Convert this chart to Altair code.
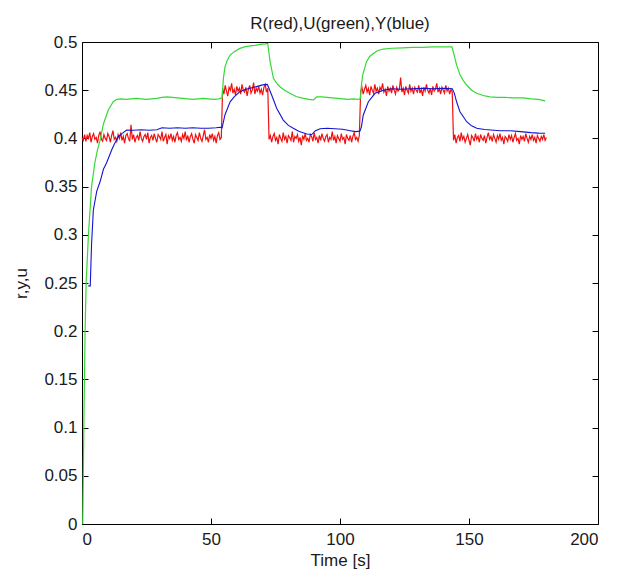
import altair as alt
import numpy as np
import pandas as pd

TITLE = "R(red),U(green),Y(blue)"
X_TITLE = "Time [s]"
Y_TITLE = "r,y,u"
X_TICKS = [0, 50, 100, 150, 200]
Y_TICKS = [0, 0.05, 0.1, 0.15, 0.2, 0.25, 0.3, 0.35, 0.4, 0.45, 0.5]

# Reference r (red), sampled every 0.5 s, values in thousandths
RED_DT = 0.5
red_low_1 = [
    401, 398, 404, 397, 403, 400, 406, 396, 402, 405,
    399, 401, 395, 403, 407, 399, 397, 404, 400, 398,
    405, 402, 396, 403, 408, 399, 401, 397, 404, 400,
    406, 398, 402, 395, 403, 405, 400, 397, 414, 399,
    404, 396, 401, 403, 398, 407, 400, 397, 402, 404,
    399, 406, 395, 401, 403, 398, 405, 400, 396, 404,
    402, 399, 407, 397, 401, 404, 394, 403, 400, 405,
    398, 402, 396, 403, 406, 399, 401, 397, 404, 400,
    407, 398, 403, 396, 402, 405, 399, 395, 404, 401,
    398, 406, 400, 397, 403, 409, 399, 401, 396, 404,
    400, 405, 398, 402, 395, 403, 406, 399, 401,
]
red_high_1 = [
    452, 446, 455, 449, 444, 453, 450, 457, 447, 451,
    445, 454, 449, 452, 446, 456, 450, 448, 453, 444,
    451, 455, 447, 450, 458, 446, 452, 449, 454, 447,
    451, 445, 453, 456, 448, 452,
]
red_low_2 = [
    399, 403, 396, 402, 405, 398, 401, 394, 404, 400,
    397, 406, 399, 402, 395, 403, 401, 398, 407, 396,
    402, 400, 404, 397, 401, 393, 403, 399, 405, 398,
    400, 396, 404, 402, 397, 406, 399, 401, 395, 403,
    398, 405, 400, 397, 402, 404, 396, 401, 399, 407,
    398, 402, 395, 403, 400, 397, 405, 399, 401, 394,
    404, 400, 398, 403, 396, 402, 406, 399, 401, 397,
    403,
]
red_high_2 = [
    449, 453, 446, 451, 455, 448, 452, 445, 454, 450,
    447, 456, 449, 452, 446, 453, 450, 457, 448, 451,
    444, 454, 449, 452, 447, 455, 450, 446, 453, 449,
    451, 463, 448, 452, 445, 454, 450, 447, 456, 449,
    452, 446, 453, 450, 448, 455, 447, 451, 444, 453,
    449, 456, 450, 447, 452, 445, 454, 449, 451, 457,
    448, 452, 446, 453, 450, 447, 455, 449, 452, 446,
    451, 448,
]
red_low_3 = [
    398, 404, 395, 401, 403, 397, 406, 399, 402, 396,
    400, 404, 398, 393, 403, 401, 397, 405, 399, 402,
    396, 404, 400, 398, 403, 395, 401, 406, 399, 402,
    397, 404, 400, 396, 403, 399, 405, 398, 401, 394,
    402, 400, 397, 404, 399, 403, 396, 401, 405, 398,
    400, 394, 403, 399, 402, 397, 405, 400, 396, 402,
    399, 404, 398, 401, 395, 403, 400, 397, 402, 399,
    404, 398, 401,
]

# Control signal u (green)
green_t = [0.3, 0.8, 1.2, 1.6, 2.5, 3.7, 5.0, 6.0, 7.0, 8.3, 10.2, 12.1, 13.5,
           15, 17, 19, 21, 23, 25, 27, 29, 31, 33, 35, 37, 39, 41, 43, 45, 47, 49,
           51, 53, 54.3, 54.8, 55.4, 56.3, 57.4, 59, 61.2, 63, 65.1, 67, 69, 71,
           72.0, 72.3, 72.9, 74.2, 75.5, 76.7, 78.5, 80.6, 83, 85.8, 88, 89.7, 91,
           93, 95, 97, 99, 101, 103, 105, 107, 107.9, 108.3, 108.8, 110.3, 111.5,
           112.9, 114.5, 116.8, 120, 124.5, 128, 132, 136, 140, 143.4, 144.2,
           145.2, 146.5, 147.8, 149.1, 151, 153, 155.5, 158.1, 161, 164, 167, 171,
           174, 177, 179.5]
green_v = [0.0, 0.12, 0.2, 0.25, 0.30, 0.35, 0.375, 0.388, 0.398, 0.415, 0.4295,
           0.438, 0.4405, 0.441, 0.4405, 0.441, 0.4415, 0.441, 0.4405, 0.441,
           0.4415, 0.4425, 0.443, 0.4425, 0.442, 0.4415, 0.441, 0.4405, 0.441,
           0.4415, 0.441, 0.4405, 0.441, 0.442, 0.462, 0.474, 0.481, 0.4865,
           0.490, 0.4934, 0.495, 0.496, 0.4965, 0.4975, 0.498, 0.4985, 0.492,
           0.4796, 0.4623, 0.457, 0.4536, 0.450, 0.4468, 0.4435, 0.4416, 0.4405,
           0.440, 0.443, 0.443, 0.4425, 0.442, 0.4415, 0.441, 0.4405, 0.441,
           0.4405, 0.441, 0.455, 0.466, 0.4796, 0.485, 0.488, 0.491, 0.4927,
           0.4935, 0.494, 0.4945, 0.4945, 0.495, 0.495, 0.495, 0.487, 0.476,
           0.466, 0.46, 0.4554, 0.450, 0.4468, 0.4445, 0.443, 0.4425, 0.4425,
           0.442, 0.442, 0.441, 0.4405, 0.439]

# Output y (blue)
blue_t = [2.4, 3.2, 3.7, 4.4, 5.7, 7.0, 8.3, 9.5, 11.5, 12.5, 14.1, 15.5, 17.3,
          20, 23, 26, 29, 31, 34, 37, 40, 43, 46, 49, 52, 53.5, 54.3, 55.4, 57.4,
          59, 61.2, 63, 65.1, 68, 70, 71.8, 72.3, 73.5, 75.5, 78, 80, 81.9, 84,
          87.1, 89, 90.5, 92.3, 95, 98, 101, 104, 106, 107.7, 108.3, 109, 111,
          113.6, 116.8, 120, 124, 128, 132, 136, 140, 143.5, 144.3, 145.2, 146.5,
          149.1, 151, 153, 156, 158.5, 162, 166, 170, 174, 177, 179.5]
blue_v = [0.247, 0.247, 0.29, 0.3257, 0.345, 0.355, 0.368, 0.3745, 0.388, 0.394,
          0.4018, 0.405, 0.4087, 0.4085, 0.409, 0.4085, 0.409, 0.411, 0.4105,
          0.411, 0.4105, 0.411, 0.4105, 0.4105, 0.411, 0.4115, 0.411, 0.4243,
          0.438, 0.443, 0.4485, 0.4505, 0.452, 0.454, 0.4555, 0.456, 0.453,
          0.445, 0.431, 0.419, 0.4135, 0.4105, 0.4075, 0.4045, 0.404, 0.408,
          0.410, 0.4105, 0.41, 0.4095, 0.408, 0.407, 0.4075, 0.412, 0.424, 0.438,
          0.4468, 0.450, 0.4515, 0.451, 0.4515, 0.452, 0.4515, 0.452, 0.4515,
          0.447, 0.438, 0.4277, 0.4173, 0.413, 0.4105, 0.4092, 0.4087, 0.408,
          0.408, 0.407, 0.406, 0.4055, 0.4053]

red_vals = np.array(red_low_1 + red_high_1 + red_low_2 + red_high_2 + red_low_3) / 1000.0
red_df = pd.DataFrame({"t": np.arange(len(red_vals)) * RED_DT, "v": red_vals})
green_df = pd.DataFrame({"t": green_t, "v": green_v})
blue_df = pd.DataFrame({"t": blue_t, "v": blue_v})

FONT = "Liberation Sans"
FS = 17
TXT = "#1a1a1a"

xs = alt.Scale(domain=[0, 200], nice=False, zero=False)
ys = alt.Scale(domain=[0, 0.5], nice=False, zero=False)

common_axis = dict(domain=False, grid=False, offset=-6, tickSize=6, tickColor="#000",
                   tickWidth=1, labelFont=FONT, labelFontSize=FS, labelColor=TXT,
                   titleFont=FONT, titleFontSize=FS, titleColor=TXT, titleFontWeight="normal")

x_bottom = alt.Axis(orient="bottom", values=X_TICKS, format="d", title=X_TITLE,
                    labelPadding=7, titlePadding=5, **common_axis)
y_left = alt.Axis(orient="left", values=Y_TICKS, format="~g", title=Y_TITLE,
                  labelPadding=5, titlePadding=13, **common_axis)
x_top = alt.Axis(orient="top", values=X_TICKS, labels=False, title=None, **common_axis)
y_right = alt.Axis(orient="right", values=Y_TICKS, labels=False, title=None, **common_axis)

red = alt.Chart(red_df).mark_line(color="#f01010", strokeWidth=1.2).encode(
    x=alt.X("t:Q", scale=xs, axis=x_bottom),
    y=alt.Y("v:Q", scale=ys, axis=y_left),
)
green = alt.Chart(green_df).mark_line(color="#35d935", strokeWidth=1.2).encode(
    x=alt.X("t:Q", scale=xs, axis=x_top),
    y=alt.Y("v:Q", scale=ys, axis=y_right),
)
blue = alt.Chart(blue_df).mark_line(color="#1414d0", strokeWidth=1.1).encode(
    x=alt.X("t:Q", scale=xs, axis=None),
    y=alt.Y("v:Q", scale=ys, axis=None),
)

chart = alt.layer(red, green, blue).resolve_axis(
    x="independent", y="independent"
).properties(
    width=516,
    height=482,
    title=alt.TitleParams(TITLE, font=FONT, fontSize=FS, fontWeight="normal",
                          color=TXT, anchor="middle", offset=0),
    autosize=alt.AutoSizeParams(type="none"),
    padding={"left": 74, "top": 34, "right": 25, "bottom": 47},
    background="white",
).configure_view(stroke="#000", strokeWidth=1)

chart.save("out.html", embed_options={"renderer": "svg", "actions": False})
